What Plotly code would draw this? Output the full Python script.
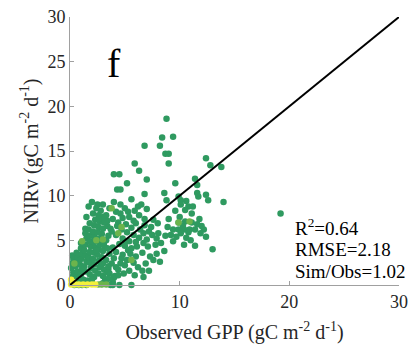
import plotly.graph_objects as go

# Observed GPP (x) vs NIRv-estimated GPP (y)
green_x = [19.2, 8.8, 9.4, 8.4, 8.2, 6.8, 8.7, 9.0, 9.0, 5.9, 6.3, 12.4, 12.8, 13.8, 4.0, 4.5,
           4.3, 4.6, 7.0, 5.2, 9.6, 11.4, 11.6, 11.6, 11.7, 14.0, 12.4, 12.6, 8.6, 8.8, 6.8, 5.6,
           9.9, 10.1, 10.6, 6.2, 1.7, 2.0, 2.5, 3.0, 1.5, 2.1, 1.4,
           8.9, 9.4, 9.9, 10.4, 10.9, 11.4, 9.9, 10.5, 11.1, 10.1, 10.6, 11.1, 10.8, 11.2, 10.5,
           10.1, 12.2, 12.4, 11.4, 13.0, 9.4, 8.6, 8.2, 7.9, 7.1, 7.3, 6.6, 6.7, 5.6, 4.5, 8.05,
           7.9, 6.7, 6.7, 6.1, 5.5, 5.2, 4.6, 4.4, 3.6,
           9.2, 9.7, 10.3, 10.8, 11.6, 11.9, 11.0, 10.0, 9.6, 11.8, 12.0, 9.0, 8.7, 10.4,
           4.2, 4.6, 5.0, 5.3, 4.8, 5.4, 5.8, 4.4, 5.1, 5.6, 6.0, 6.4, 6.8, 7.2, 7.5, 7.0, 6.3,
           5.8, 5.2, 4.7, 4.2, 4.8, 5.4, 6.0, 6.6, 6.0, 5.6, 5.0, 4.5, 3.9, 4.2, 4.8, 5.3, 4.0,
           3.6, 3.3, 3.8, 4.2, 5.0, 5.8, 6.2, 5.4, 4.9, 4.0, 3.2, 3.5, 2.8, 6.8, 7.4, 6.3, 5.9,
           6.5, 7.0, 7.6, 8.0, 7.8, 8.3, 7.6, 6.9, 7.2, 5.9, 3.0, 3.9, 4.3, 3.8, 3.5, 3.1, 3.4,
           3.9, 3.3, 2.8, 3.6, 4.0, 4.6,
           0.2, 0.3, 0.1, 0.2, 0.3, 0.2, 0.6, 0.7, 0.5, 0.6, 0.7, 0.6, 1.0, 1.1, 0.9, 1.0, 1.1,
           1.0, 1.0, 1.4, 1.3, 1.5, 1.4, 1.3, 1.4, 1.5, 1.4, 1.8, 1.9, 1.8, 1.7, 1.8, 1.9, 1.8,
           1.8, 1.7, 1.8, 2.2, 2.3, 2.2, 2.1, 2.2, 2.3, 2.2, 2.2, 2.1, 2.2, 2.3, 2.4, 2.6, 2.7,
           2.6, 2.5, 2.6, 2.7, 2.6, 2.5, 2.6, 2.7, 2.6, 3.0, 3.1, 3.0, 2.9, 3.0, 3.1, 3.0, 2.9,
           3.0, 3.1, 3.0, 3.4, 3.5, 3.4, 3.3, 3.4, 3.5, 2.4, 1.2, 0.8, 1.6, 2.0, 2.9, 3.7, 4.1,
           4.4, 3.7, 3.2, 2.6, 5.1, 4.7, 3.9, 1.1, 0.4, 0.8, 1.5, 2.0, 1.2, 0.4]
green_y = [8.0, 18.6, 16.6, 16.5, 15.6, 15.6, 14.7, 14.7, 13.6, 13.6, 12.8, 14.2, 13.4, 13.2,
           12.4, 12.4, 10.7, 10.7, 11.8, 11.4, 11.4, 11.9, 11.2, 10.3, 9.9, 9.3, 10.1, 9.5, 10.3,
           9.5, 10.2, 9.6, 9.9, 9.5, 9.4, 8.8, 8.8, 9.3, 9.0, 9.0, 7.6, 8.0, 6.3,
           6.5, 6.2, 6.2, 6.2, 6.2, 6.2, 7.0, 7.1, 7.0, 5.8, 5.3, 8.0, 8.8, 8.8, 8.4, 9.0, 6.2,
           5.4, 4.4, 4.0, 4.9, 3.8, 2.6, 3.5, 4.3, 3.2, 1.6, 0.9, 0.0, 0.0, 5.8, 5.2, 5.8, 4.7,
           4.3, 3.5, 2.8, 2.4, 1.7, 1.3,
           5.6, 5.4, 6.6, 5.9, 6.8, 5.8, 5.0, 7.6, 8.3, 7.4, 6.6, 7.4, 5.5, 4.5,
           8.2, 8.0, 8.6, 8.2, 7.5, 7.6, 7.2, 7.0, 6.8, 6.4, 6.9, 6.2, 6.7, 6.0, 5.6, 5.1, 5.3,
           5.6, 5.9, 6.2, 5.6, 5.2, 4.9, 4.8, 3.6, 3.2, 4.1, 4.4, 4.6, 4.2, 3.7, 3.4, 3.9, 3.0,
           3.5, 2.8, 2.4, 2.0, 2.2, 2.5, 2.0, 1.6, 1.3, 0.8, 0.5, 1.8, 2.1, 7.4, 6.5, 7.8, 8.3,
           9.0, 8.5, 7.3, 6.9, 4.5, 4.7, 2.8, 2.4, 1.6, 1.1, 0.2, 0.3, 6.6, 6.0, 5.5, 4.8, 6.6,
           7.4, 7.8, 8.3, 8.6, 9.3, 9.0,
           0.9, 1.4, 1.9, 2.4, 2.9, 3.3, 1.0, 1.5, 2.1, 2.6, 3.1, 3.6, 1.2, 1.8, 2.3, 2.9, 3.5,
           4.1, 4.7, 1.5, 2.1, 2.7, 3.3, 3.9, 4.5, 5.2, 5.8, 1.2, 1.9, 2.5, 3.1, 3.7, 4.3, 4.9,
           5.5, 6.2, 6.9, 0.9, 1.6, 2.3, 2.9, 3.6, 4.2, 4.8, 5.4, 6.0, 6.7, 7.3, 8.6, 1.3, 2.0,
           2.7, 3.4, 4.0, 4.6, 5.2, 5.9, 6.5, 7.1, 7.8, 1.0, 1.7, 2.4, 3.1, 3.8, 4.4, 5.1, 5.7,
           6.3, 7.0, 7.6, 1.4, 2.1, 4.1, 5.0, 7.2, 0.7, 3.9, 0.6, 0.4, 0.5, 0.6, 0.1, 0.0, 1.0,
           1.1, 6.3, 7.1, 7.4, 4.9, 3.0, 0.0, 0.0, 0.0, 0.0, 0.0, 0.6, 0.6]

light_x = [1.1, 2.4, 3.0, 4.4, 4.7, 9.9, 10.9, 5.6, 3.8, 2.6, 2.9, 3.3, 0.4]
light_y = [4.9, 5.0, 5.1, 5.8, 6.5, 7.0, 7.1, 2.8, 8.6, 0.05, 0.05, 0.05, 2.4]

yellow_x = [0.1, 0.4, 0.8, 1.2, 1.6, 2.0, 0.3, 2.3, 0.1]
yellow_y = [0.05, 0.05, 0.05, 0.05, 0.05, 0.05, 0.3, 0.05, 0.6]

line_x = [0, 30]
line_y = [0, 30]

stats = ["R<sup>2</sup>=0.64", "RMSE=2.18", "Sim/Obs=1.02"]
stats_y = [6.5, 4.0, 1.5]
x_ticks = [0, 10, 20, 30]
y_ticks = [0, 5, 10, 15, 20, 25, 30]

FONT = "Liberation Serif, Times New Roman, serif"

fig = go.Figure()
fig.add_trace(go.Scatter(x=green_x, y=green_y, mode="markers",
                         marker=dict(color="#2f9a60", size=6.5, line=dict(width=0)),
                         showlegend=False, cliponaxis=False))
fig.add_trace(go.Scatter(x=light_x, y=light_y, mode="markers",
                         marker=dict(color="#6cb44c", size=6.5, line=dict(width=0)),
                         showlegend=False, cliponaxis=False))
fig.add_trace(go.Scatter(x=yellow_x, y=yellow_y, mode="markers",
                         marker=dict(color="#f2f03c", size=6.5, line=dict(width=0)),
                         showlegend=False, cliponaxis=False))
fig.add_trace(go.Scatter(x=line_x, y=line_y, mode="lines",
                         line=dict(color="black", width=2), showlegend=False))

for s, yy in zip(stats, stats_y):
    fig.add_annotation(x=20.3, y=yy, xref="x", yref="y", text=s, showarrow=False,
                       xanchor="left", yanchor="middle",
                       font=dict(family=FONT, size=19, color="black"))

fig.add_annotation(x=4.0, y=24.8, xref="x", yref="y", text="f", showarrow=False,
                   xanchor="center", yanchor="middle",
                   font=dict(family=FONT, size=40, color="black"))

axis_common = dict(showgrid=False, zeroline=False, showline=True, linecolor="#a0a0a0",
                   linewidth=1, ticks="inside", ticklen=4, tickcolor="#a0a0a0",
                   tickfont=dict(family=FONT, size=18, color="#262626"),
                   mirror=False, automargin=False, ticklabeloverflow="allow")

fig.update_xaxes(range=[0, 30], tickvals=x_ticks, **axis_common,
                 title=dict(text="Observed GPP (gC m<sup>-2</sup> d<sup>-1</sup>)",
                            font=dict(family=FONT, size=20, color="#262626"), standoff=14))
fig.update_yaxes(range=[0, 30], tickvals=y_ticks, **axis_common,
                 title=dict(text="NIRv (gC m<sup>-2</sup> d<sup>-1</sup>)",
                            font=dict(family=FONT, size=20, color="#262626"), standoff=3))

fig.update_layout(width=409, height=345, margin=dict(l=70, r=10, t=17, b=60),
                  plot_bgcolor="white", paper_bgcolor="white")

fig.write_html("out.html", config={"displayModeBar": False},
               post_script="document.body.style.margin='0';document.body.style.overflow='hidden';")
